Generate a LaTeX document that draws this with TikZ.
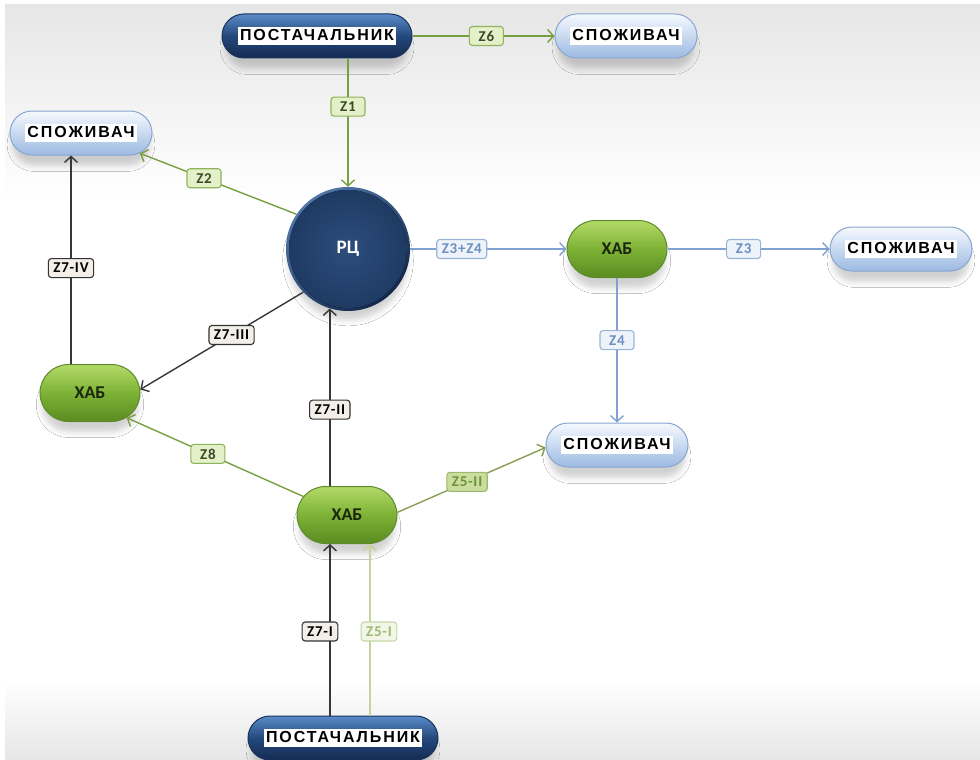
\documentclass[tikz,border=0pt]{standalone}
\usepackage{fontspec}
\setmainfont{Liberation Sans}
\newfontfamily\namefont{Liberation Sans}[LetterSpace=12]
\newfontfamily\tagfont{Carlito}[LetterSpace=5]
\newfontfamily\hubfont{Carlito}
\usetikzlibrary{arrows.meta,shapes.misc,shadows.blur}

% palette
\definecolor{bgG}{HTML}{E6E6E6}
\definecolor{supTop}{HTML}{5A8BC8}
\definecolor{supMid}{HTML}{24487C}
\definecolor{supBot}{HTML}{142B52}
\definecolor{supEdge}{HTML}{1A335C}
\definecolor{conTop}{HTML}{F5F9FE}
\definecolor{conBot}{HTML}{9CBAE2}
\definecolor{conEdge}{HTML}{88A6D0}
\definecolor{hubTop}{HTML}{B3DA68}
\definecolor{hubMid}{HTML}{7DB236}
\definecolor{hubBot}{HTML}{5A8C20}
\definecolor{hubEdge}{HTML}{5E8A2C}
\definecolor{hubText}{HTML}{1C260E}
\definecolor{rimLight}{HTML}{4F77AA}
\definecolor{rimDark}{HTML}{132849}
\definecolor{coreIn}{HTML}{2C4D7C}
\definecolor{coreOut}{HTML}{1E3A62}
\definecolor{lnG}{HTML}{77A040}
\definecolor{lnK}{HTML}{383838}
\definecolor{lnB}{HTML}{7FA2D2}
\definecolor{lnP}{HTML}{8A9D55}
\definecolor{lnL}{HTML}{C6D49C}
\definecolor{tgGfill}{HTML}{E4F0C8}
\definecolor{tgGedge}{HTML}{8FB35A}
\definecolor{tgGtext}{HTML}{3A4A2A}
\definecolor{tgKfill}{HTML}{F3EFE8}
\definecolor{tgKedge}{HTML}{333333}
\definecolor{tgBfill}{HTML}{EEF3FA}
\definecolor{tgBedge}{HTML}{9AB4D8}
\definecolor{tgBtext}{HTML}{6D8FC0}
\definecolor{tgPfill}{HTML}{CADD9E}
\definecolor{tgPedge}{HTML}{9CB86A}
\definecolor{tgPtext}{HTML}{6F9338}
\definecolor{tgLfill}{HTML}{F2F6E6}
\definecolor{tgLedge}{HTML}{C5D6A2}
\definecolor{tgLtext}{HTML}{9CB878}

% white plate behind the names inside the pills
\newcommand\nameplate[1]{{\setlength{\fboxsep}{2pt}\colorbox{white}{\rule[-2.5pt]{0pt}{14pt}#1}}}

\begin{document}
\begin{tikzpicture}[x=1pt,y=-1pt,
  soft/.style={blur shadow={shadow xshift=0pt,shadow yshift=-12pt,shadow scale=0.96,
    shadow blur radius=6pt,shadow opacity=18}},
  supplier/.style={rounded rectangle,minimum width=190pt,minimum height=44pt,inner sep=0pt,
    draw=supEdge,line width=1pt,top color=supTop,bottom color=supBot,middle color=supMid,soft,
    font=\namefont\bfseries\fontsize{16}{16}\selectfont},
  consumer/.style={rounded rectangle,minimum width=142pt,minimum height=44pt,inner sep=0pt,
    draw=conEdge,line width=1pt,top color=conTop,bottom color=conBot,soft,
    font=\namefont\bfseries\fontsize{16}{16}\selectfont},
  hub/.style={rounded rectangle,minimum width=100pt,minimum height=57pt,inner sep=0pt,
    draw=hubEdge,line width=1pt,top color=hubTop,bottom color=hubBot,middle color=hubMid,soft,
    text=hubText,font=\hubfont\bfseries\fontsize{18}{18}\selectfont},
  centre/.style={circle,minimum size=124pt,inner sep=0pt,
    shading=axis,top color=rimLight,bottom color=rimDark,shading angle=40,soft,
    path picture={\fill[inner color=coreIn,outer color=coreOut]
      (path picture bounding box.center) circle[radius=59pt];},
    text=white,font=\hubfont\bfseries\fontsize{19}{19}\selectfont},
  tagbase/.style={rounded corners=3pt,line width=1.1pt,inner xsep=5pt,inner ysep=0pt,
    minimum height=19pt,minimum width=34pt,font=\tagfont\bfseries\fontsize{15}{15}\selectfont},
  tagG/.style={tagbase,draw=tgGedge,fill=tgGfill,text=tgGtext},
  tagK/.style={tagbase,draw=tgKedge,fill=tgKfill,text=black},
  tagB/.style={tagbase,draw=tgBedge,fill=tgBfill,text=tgBtext},
  tagP/.style={tagbase,draw=tgPedge,fill=tgPfill,text=tgPtext},
  tagL/.style={tagbase,draw=tgLedge,fill=tgLfill,text=tgLtext},
  flowbase/.style={line width=1.4pt,-{Straight Barb[length=6pt,width=13pt]}},
  flowG/.style={flowbase,draw=lnG},
  flowK/.style={flowbase,draw=lnK},
  flowB/.style={flowbase,draw=lnB},
  flowP/.style={flowbase,draw=lnP},
  flowL/.style={flowbase,draw=lnL},
]
\useasboundingbox (0,0) rectangle (980,760);

% backdrop: grey haze at the top and bottom edges
\fill[white] (0,0) rectangle (980,760);
\shade[top color=bgG,bottom color=white] (5,5) rectangle (980,200);
\shade[top color=white,bottom color=bgG] (5,680) rectangle (980,760);

% nodes
\node[supplier] (topP) at (317,36)  {\nameplate{ПОСТАЧАЛЬНИК}};
\node[consumer] (sT)   at (626,36)  {\nameplate{СПОЖИВАЧ}};
\node[consumer] (sL)   at (81,133)  {\nameplate{СПОЖИВАЧ}};
\node[centre]   (rc)   at (348,249) {РЦ};
\node[hub]      (hubR) at (617,249) {ХАБ};
\node[consumer] (sR)   at (901,249) {\nameplate{СПОЖИВАЧ}};
\node[hub]      (hubL) at (90,393)  {ХАБ};
\node[consumer] (sM)   at (617,445) {\nameplate{СПОЖИВАЧ}};
\node[hub]      (hubB) at (347,515) {ХАБ};
\node[supplier] (botP) at (343,738) {\nameplate{ПОСТАЧАЛЬНИК}};

% attachment points of the vertical flows
\coordinate (zIV) at ([xshift=-19pt]hubL.north);
\coordinate (zI)  at ([xshift=-17pt]hubB.south);
\coordinate (zV)  at ([xshift=23pt]hubB.south);

% flows
\draw[flowG] (topP.east) -- node[tagG,pos=.52]{Z6} (sT.west);
\draw[flowG] (rc.north |- topP.south) -- node[tagG,pos=.375]{Z1} (rc.north);
\draw[flowG] (rc.146) -- node[tagG,pos=.59]{Z2} (sL.-19);
\draw[flowB] (rc.east) -- node[tagB,pos=.33]{Z3+Z4} (hubR.west);
\draw[flowB] (hubR.east) -- node[tagB,pos=.47]{Z3} (sR.west);
\draw[flowB] (hubR.south) -- node[tagB,pos=.43]{Z4} (sM.north);
\draw[flowK] (zIV |- hubL.north) -- node[tagK,pos=.46]{Z7-IV} (zIV |- sL.south);
\draw[flowK] (rc.224) -- node[tagK,pos=.44]{Z7-III} (hubL.4);
\draw[flowK] (rc.253 |- hubB.north) -- node[tagK,pos=.43]{Z7-II} (rc.253);
\draw[flowG] (hubB.157) -- node[tagG,pos=.54]{Z8} (hubL.-34);
\draw[flowP] (hubB.3) -- node[tagP,pos=.47]{Z5-II} (sM.182);
\draw[flowK] (zI |- botP.north) -- node[tagK,pos=.49,xshift=-10pt]{Z7-I} (zI);
\draw[flowL] (zV |- botP.north) -- node[tagL,pos=.49,xshift=9pt]{Z5-I} (zV);
\end{tikzpicture}
\end{document}
